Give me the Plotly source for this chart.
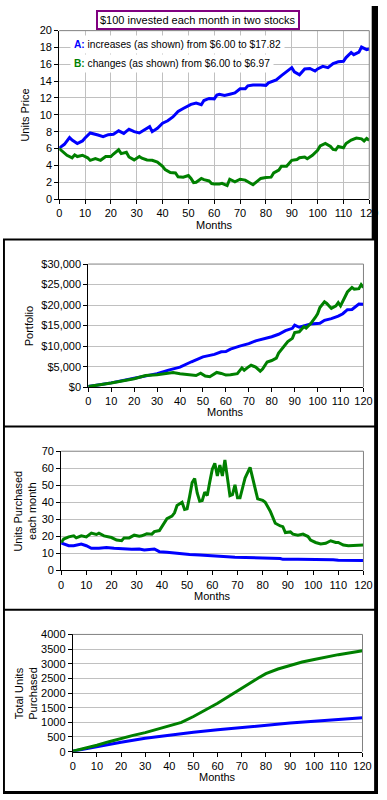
import plotly.graph_objects as go

# ---------------- data ----------------
price_a_months = [0, 2, 4, 5, 7, 9, 10, 12, 15, 17, 19, 21, 23, 25, 27, 29, 31, 33, 35, 36, 38, 40,
                  42, 44, 46, 48, 50, 51, 53, 55, 56, 58, 60, 61, 62, 64, 66, 68, 70, 72, 73, 75,
                  78, 80, 81, 84, 86, 88, 90, 91, 93, 95, 97, 99, 100, 102, 104, 106, 108, 110,
                  111, 113, 114, 116, 117, 119, 120]
price_a = [6.05, 6.5, 7.3, 7.0, 6.6, 6.9, 7.25, 7.85, 7.6, 7.4, 7.65, 7.7, 8.1, 7.8, 8.3, 8.0, 7.85,
           8.2, 8.6, 8.0, 8.4, 9.0, 9.3, 9.75, 10.4, 10.75, 11.05, 11.25, 11.4, 11.2, 11.7, 11.95,
           11.9, 12.35, 12.45, 12.3, 12.45, 12.6, 13.1, 13.1, 13.45, 13.55, 13.55, 13.5, 13.8,
           14.15, 14.65, 15.1, 15.6, 15.1, 14.75, 15.45, 15.5, 15.2, 15.45, 15.75, 15.6, 16.1,
           16.3, 16.35, 16.8, 17.4, 17.15, 17.45, 18.05, 17.75, 17.82]

price_b_months = [0, 1, 2, 3, 5, 6, 7, 9, 11, 12, 14, 16, 18, 20, 21, 23, 24, 26, 27, 29, 31, 32,
                  34, 36, 38, 40, 41, 42, 43, 45, 46, 48, 50, 51, 52, 53, 55, 56, 58, 59, 60, 62,
                  63, 65, 66, 68, 70, 72, 73, 75, 76, 78, 80, 82, 83, 85, 86, 88, 90, 92, 93, 95,
                  96, 98, 100, 101, 103, 105, 106, 107, 108, 110, 111, 113, 115, 117, 118, 119, 120]
price_b = [6.0, 5.7, 5.45, 5.2, 4.9, 5.25, 5.05, 5.2, 4.9, 4.6, 4.8, 4.6, 5.05, 5.05, 5.35, 5.85,
           5.4, 5.55, 5.0, 4.65, 5.05, 4.85, 4.65, 4.6, 4.4, 3.9, 3.5, 3.3, 3.15, 3.1, 2.65, 2.6,
           2.8, 2.45, 1.95, 2.0, 2.45, 2.3, 2.15, 1.85, 1.8, 1.8, 1.87, 1.6, 2.35, 2.05, 2.35,
           2.25, 2.05, 1.7, 1.95, 2.45, 2.55, 2.6, 3.1, 3.45, 3.9, 3.9, 4.6, 4.7, 4.9, 5.0, 4.8,
           5.2, 5.8, 6.3, 6.6, 6.25, 5.9, 5.85, 6.25, 6.1, 6.6, 7.0, 7.25, 7.15, 6.9, 7.2, 6.97]

port_a_months = [0, 10, 20, 30, 35, 40, 45, 50, 55, 58, 60, 62, 66, 70, 73, 78, 80, 83, 86, 89, 90,
                 92, 94, 97, 101, 103, 106, 109, 111, 113, 115, 117, 118, 120]
port_a = [150, 1050, 2180, 3300, 4150, 4900, 6200, 7400, 8000, 8620, 8700, 9270, 10000, 10600,
          11300, 11900, 12300, 12900, 13780, 14350, 15100, 14600, 14850, 15400, 15560, 16300,
          16700, 17300, 17900, 18900, 18950, 19950, 20250, 20200]

port_b_months = [0, 10, 20, 25, 30, 34, 37, 40, 44, 47, 49, 51, 53, 55, 56, 58, 60, 62, 64, 65, 67,
                 68, 70, 71, 73, 75, 76, 78, 80, 82, 83, 85, 87, 89, 90, 92, 94, 95, 97, 99, 100,
                 101, 103, 104, 106, 108, 109, 110, 112, 113, 115, 116, 118, 119, 120]
port_b = [150, 1000, 2050, 2850, 3060, 3470, 3600, 3300, 3060, 2850, 3400, 2700, 2550, 3400, 3600,
          3350, 2950, 3060, 3150, 3300, 4700, 4150, 5000, 5350, 4900, 3900, 4400, 6150, 6500,
          7100, 8300, 9700, 11100, 11900, 13300, 13500, 14750, 14400, 15500, 17000, 17900, 19400,
          20800, 20400, 19200, 19800, 20600, 19800, 22300, 23200, 24300, 23900, 24000, 25000, 24300]

units_a_months = [0, 1, 3, 5, 8, 10, 12, 15, 18, 21, 24, 28, 31, 33, 37, 39, 42, 45, 48, 51, 55,
                  58, 60, 66, 69, 80, 82, 87, 88, 92, 93, 94, 108, 110, 120]
units_a = [16.1, 15.5, 14.5, 14.5, 15.5, 14.5, 13.0, 13.0, 13.5, 13.0, 12.6, 12.4, 12.6, 12.0,
           12.6, 11.0, 10.6, 10.1, 9.7, 9.3, 9.1, 8.7, 8.4, 8.0, 7.7, 7.5, 7.3, 7.0, 6.5, 6.5,
           6.8, 6.5, 6.3, 5.9, 5.8]

units_b_months = [0, 1, 3, 5, 6, 8, 10, 12, 14, 15, 17, 19, 20, 22, 24, 25, 27, 29, 31, 32, 34, 36,
                  37, 39, 40, 42, 44, 45, 46, 48, 49, 50, 51, 52, 53, 54, 55, 56, 57, 58, 59, 60,
                  61, 62, 63, 64, 65, 66, 67, 68, 69, 70, 71, 72, 73, 75, 76, 77, 78, 80, 81, 83,
                  84, 85, 87, 88, 89, 91, 92, 94, 96, 98, 99, 101, 103, 105, 107, 109, 110, 112,
                  114, 116, 119, 120]
units_b = [16.4, 18.4, 19.7, 20.3, 19.1, 20.3, 19.7, 21.9, 21.1, 21.9, 20.3, 19.7, 19.3, 17.8,
           17.4, 19.1, 19.1, 20.7, 20.1, 20.3, 21.5, 21.3, 22.8, 23.4, 25.7, 30.4, 31.9, 33.8,
           38.1, 40.0, 35.8, 36.2, 43.5, 51.6, 54.0, 45.5, 40.6, 41.0, 46.0, 44.0, 52.0, 59.4,
           62.9, 55.5, 61.9, 55.5, 64.8, 53.2, 43.9, 44.5, 50.3, 42.6, 42.6, 48.4, 54.2, 60.5,
           54.2, 47.8, 42.0, 41.2, 40.0, 34.8, 30.9, 27.7, 26.1, 25.7, 22.2, 22.6, 21.3, 20.7,
           21.3, 19.9, 17.8, 16.4, 15.5, 15.9, 17.4, 16.4, 16.4, 14.9, 14.5, 14.5, 14.5, 14.9]

total_a_months = [0, 10, 20, 30, 40, 50, 60, 70, 80, 90, 100, 110, 120]
total_a = [17, 180, 320, 455, 568, 660, 748, 828, 905, 975, 1040, 1105, 1154]

total_b_months = [0, 5, 10, 15, 20, 25, 30, 35, 40, 45, 50, 55, 60, 65, 70, 75, 77, 80, 85, 90,
                  95, 100, 105, 110, 115, 120]
total_b = [17, 115, 220, 340, 460, 555, 650, 760, 870, 1000, 1200, 1430, 1650, 1910, 2180, 2420,
           2520, 2660, 2820, 2950, 3060, 3145, 3235, 3310, 3375, 3440]

x_ticks = list(range(0, 121, 10))
title_text = "$100 invested each month in two stocks"
legend_a = "increases (as shown) from $6.00 to $17.82"
legend_b = "changes (as shown) from $6.00 to $6.97"

# ---------------- styling ----------------
W, H = 387, 800
BLUE = "#0000FF"
GREEN = "#008000"
FONT = "Liberation Sans, Arial, sans-serif"
GRID = "#C0C0C0"
BORDER = "#808080"


def fx(p):
    return p / W


def fy(p):
    return 1 - p / H


# plot areas in pixels: (left, right, top, bottom)
areas = [(58, 378, 25, 196), (88, 372, 262, 387), (60, 372, 452, 573), (72, 371, 638, 757)]
yranges = [[0, 20], [0, 30000], [0, 70], [0, 4000]]
ydtick = [2, 5000, 10, 500]

fig = go.Figure()
series = [
    ((price_a_months, price_a), (price_b_months, price_b)),
    ((port_a_months, port_a), (port_b_months, port_b)),
    ((units_a_months, units_a), (units_b_months, units_b)),
    ((total_a_months, total_a), (total_b_months, total_b)),
]
for i, (sa, sb) in enumerate(series):
    xa = "x" if i == 0 else f"x{i+1}"
    ya = "y" if i == 0 else f"y{i+1}"
    for (mx, vy), col in ((sa, BLUE), (sb, GREEN)):
        fig.add_trace(go.Scatter(x=mx, y=vy, xaxis=xa, yaxis=ya, mode="lines",
                                 line=dict(color=col, width=3), hoverinfo="skip",
                                 showlegend=False))

layout = dict(width=W, height=H, margin=dict(l=0, r=0, t=0, b=0),
              paper_bgcolor="white", plot_bgcolor="white",
              font=dict(family=FONT, size=11, color="black"), showlegend=False)
shapes = []
annotations = []
for i, (l, r, t, b) in enumerate(areas):
    sx = "xaxis" if i == 0 else f"xaxis{i+1}"
    sy = "yaxis" if i == 0 else f"yaxis{i+1}"
    an_y = "y" if i == 0 else f"y{i+1}"
    an_x = "x" if i == 0 else f"x{i+1}"
    layout[sx] = dict(domain=[fx(l), fx(r)], anchor=an_y, range=[0, 120], tickvals=x_ticks,
                      ticks="outside", ticklen=4, tickcolor="black", showline=True,
                      linecolor="black", linewidth=1, showgrid=(i == 0), gridcolor=GRID,
                      zeroline=False, fixedrange=True,
                      tickfont=dict(family=FONT, size=11, color="black"))
    ycfg = dict(domain=[fy(b), fy(t)], anchor=an_x, range=yranges[i], dtick=ydtick[i],
                tick0=0, ticks="outside", ticklen=4, tickcolor="black", showline=True,
                linecolor="black", linewidth=1, showgrid=True, gridcolor=GRID,
                zeroline=False, fixedrange=True,
                tickfont=dict(family=FONT, size=11, color="black"))
    if i == 1:
        ycfg.update(tickprefix="$", tickformat=",.0f")
    layout[sy] = ycfg
    # grey top and right frame
    shapes.append(dict(type="line", xref="paper", yref="paper", x0=fx(l), x1=fx(r),
                       y0=fy(t), y1=fy(t), line=dict(color=BORDER, width=1)))
    shapes.append(dict(type="line", xref="paper", yref="paper", x0=fx(r), x1=fx(r),
                       y0=fy(t), y1=fy(b), line=dict(color=BORDER, width=1)))

# x-axis titles
months_y = [222, 412, 599, 783]
for i, (l, r, t, b) in enumerate(areas):
    annotations.append(dict(text="Months", xref="paper", yref="paper", x=fx((l + r) / 2),
                            y=fy(months_y[i]), xanchor="center", yanchor="middle",
                            showarrow=False, font=dict(size=11)))

# y-axis titles
ytitles = [("Units Price", 23, 111), ("Portfolio", 27, 325),
           ("Units Purchased<br>each month", 23, 513), ("Total Units<br>Purchased", 23, 698)]
for txt, xx, yy in ytitles:
    annotations.append(dict(text=txt, xref="paper", yref="paper", x=fx(xx), y=fy(yy),
                            xanchor="center", yanchor="middle", textangle=-90,
                            showarrow=False, font=dict(size=11)))

# title box
annotations.append(dict(text=title_text, xref="paper", yref="paper", x=fx(201), y=fy(14),
                        xanchor="center", yanchor="middle", showarrow=False,
                        font=dict(size=11), bordercolor="#800080", borderwidth=2,
                        borderpad=2, bgcolor="white"))

# legend texts
annotations.append(dict(text=f"<b><span style='color:{BLUE}'>A:</span></b> {legend_a}",
                        xref="paper", yref="paper", x=fx(69), y=fy(39), xanchor="left",
                        yanchor="middle", showarrow=False, font=dict(size=10.2),
                        bgcolor="white", borderpad=3))
annotations.append(dict(text=f"<b><span style='color:{GREEN}'>B:</span></b> {legend_b}",
                        xref="paper", yref="paper", x=fx(69), y=fy(58), xanchor="left",
                        yanchor="middle", showarrow=False, font=dict(size=10.2),
                        bgcolor="white", borderpad=3))

# outer frame and separators
for sep in (237, 427, 613):
    shapes.append(dict(type="rect", xref="paper", yref="paper", x0=0, x1=1, y0=fy(sep + 1),
                       y1=fy(sep - 1), fillcolor="black", line=dict(width=0), layer="above"))
shapes.append(dict(type="rect", xref="paper", yref="paper", x0=0, x1=fx(2), y0=0, y1=fy(237),
                   fillcolor="black", line=dict(width=0), layer="above"))
shapes.append(dict(type="rect", xref="paper", yref="paper", x0=fx(380.5), x1=1, y0=fy(237),
                   y1=1, fillcolor="black", line=dict(width=0), layer="above"))
shapes.append(dict(type="rect", xref="paper", yref="paper", x0=fx(383), x1=1, y0=0,
                   y1=fy(237), fillcolor="black", line=dict(width=0), layer="above"))
shapes.append(dict(type="rect", xref="paper", yref="paper", x0=0, x1=1, y0=0, y1=fy(797),
                   fillcolor="black", line=dict(width=0), layer="above"))

layout["shapes"] = shapes
layout["annotations"] = annotations
fig.update_layout(**layout)

fig.write_html("out.html", config={"displayModeBar": False, "staticPlot": True},
               post_script="document.body.style.margin='0';document.body.style.overflow='hidden';")
